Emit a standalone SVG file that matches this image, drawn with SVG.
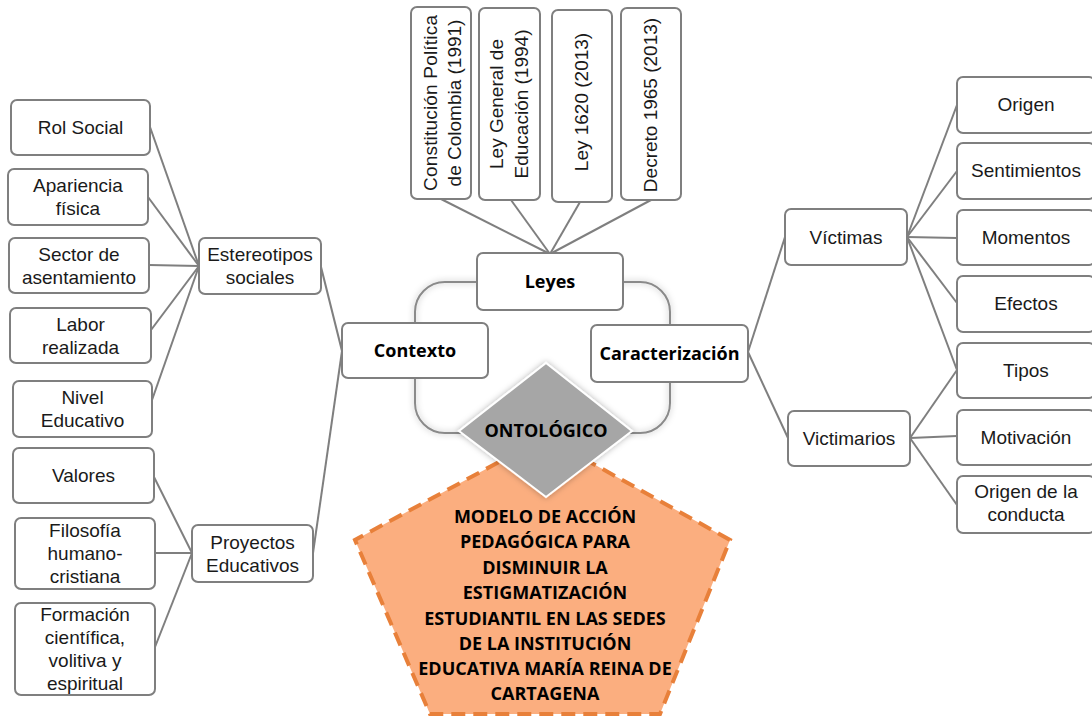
<svg xmlns="http://www.w3.org/2000/svg" width="1092" height="719" viewBox="0 0 1092 719">
<defs>
<filter id="glow" x="-20%" y="-20%" width="140%" height="140%">
<feGaussianBlur in="SourceAlpha" stdDeviation="3" result="blur"/>
<feFlood flood-color="#000" flood-opacity="0.3"/>
<feComposite in2="blur" operator="in" result="g"/>
<feMerge><feMergeNode in="g"/><feMergeNode in="SourceGraphic"/></feMerge>
</filter>
</defs>
<style>
.box{fill:#fff;stroke:#7f7f7f;stroke-width:2}
.t{font-family:"Liberation Sans",Arial,sans-serif;font-size:19px;fill:#1a1a1a;text-anchor:middle}
.b{font-family:"Open Sans",Lato,sans-serif;font-size:18px;font-weight:bold;fill:#000;text-anchor:middle}
.c{stroke:#7f7f7f;stroke-width:2;fill:none}
</style>
<rect width="1092" height="719" fill="#fff"/>

<g id="loop">
<rect x="415" y="282" width="255" height="151" rx="30" fill="none" stroke="#8a8a8a" stroke-width="2" filter="url(#glow)"/>
</g>

<g id="connectors">
<line class="c" x1="441" y1="199" x2="550" y2="254"/>
<line class="c" x1="511" y1="200" x2="550" y2="254"/>
<line class="c" x1="580" y1="202" x2="550" y2="254"/>
<line class="c" x1="651" y1="200" x2="550" y2="254"/>
<line class="c" x1="150" y1="127" x2="199" y2="266"/>
<line class="c" x1="148" y1="197" x2="199" y2="266"/>
<line class="c" x1="149" y1="265" x2="199" y2="266"/>
<line class="c" x1="151" y1="330" x2="199" y2="266"/>
<line class="c" x1="152" y1="400" x2="199" y2="266"/>
<line class="c" x1="321" y1="267" x2="342" y2="351"/>
<line class="c" x1="313" y1="553" x2="342" y2="351"/>
<line class="c" x1="154" y1="477" x2="192" y2="553"/>
<line class="c" x1="155" y1="553" x2="192" y2="553"/>
<line class="c" x1="155" y1="647" x2="192" y2="553"/>
<line class="c" x1="748" y1="352" x2="785" y2="237"/>
<line class="c" x1="748" y1="352" x2="788" y2="438"/>
<line class="c" x1="907" y1="237" x2="957" y2="105"/>
<line class="c" x1="907" y1="237" x2="957" y2="171"/>
<line class="c" x1="907" y1="237" x2="957" y2="238"/>
<line class="c" x1="907" y1="237" x2="957" y2="303"/>
<line class="c" x1="907" y1="237" x2="957" y2="370"/>
<line class="c" x1="910" y1="438" x2="957" y2="370"/>
<line class="c" x1="910" y1="438" x2="957" y2="436"/>
<line class="c" x1="910" y1="438" x2="957" y2="505"/>
</g>

<g id="n-constitucion"><rect class="box" x="411" y="7" width="60" height="192" rx="6"/>
<text class="t" transform="translate(437,103) rotate(-90)"><tspan x="0" y="0" textLength="176" lengthAdjust="spacing">Constitución Política</tspan><tspan x="0" y="24">de Colombia (1991)</tspan></text></g>
<g id="n-leygeneral"><rect class="box" x="479" y="8" width="61" height="192" rx="6"/>
<text class="t" transform="translate(503,104) rotate(-90)"><tspan x="0" y="0">Ley General de</tspan><tspan x="0" y="25">Educación (1994)</tspan></text></g>
<g id="n-ley1620"><rect class="box" x="552" y="10" width="60" height="192" rx="6"/>
<text class="t" transform="translate(588,102) rotate(-90)">Ley 1620 (2013)</text></g>
<g id="n-decreto"><rect class="box" x="621" y="8" width="60" height="192" rx="6"/>
<text class="t" transform="translate(657,105) rotate(-90)">Decreto 1965 (2013)</text></g>

<g id="n-leyes"><rect class="box" x="477" y="253" width="146" height="57" rx="6"/><text class="b" x="550" y="288">Leyes</text></g>
<g id="n-contexto"><rect class="box" x="342" y="323" width="146" height="55" rx="6"/><text class="b" x="415" y="357">Contexto</text></g>
<g id="n-caracterizacion"><rect class="box" x="591" y="325" width="157" height="57" rx="6"/><text class="b" x="669.5" y="360">Caracterización</text></g>

<g id="n-rol"><rect class="box" x="11" y="100" width="139" height="55" rx="6"/><text class="t" x="80.5" y="134">Rol Social</text></g>
<g id="n-apariencia"><rect class="box" x="8" y="169" width="140" height="56" rx="6"/><text class="t"><tspan x="78" y="192">Apariencia</tspan><tspan x="78" y="215">física</tspan></text></g>
<g id="n-sector"><rect class="box" x="9" y="238" width="140" height="55" rx="6"/><text class="t"><tspan x="79" y="261">Sector de</tspan><tspan x="79" y="284">asentamiento</tspan></text></g>
<g id="n-labor"><rect class="box" x="10" y="308" width="141" height="55" rx="6"/><text class="t"><tspan x="80.5" y="331">Labor</tspan><tspan x="80.5" y="354">realizada</tspan></text></g>
<g id="n-nivel"><rect class="box" x="13" y="381" width="139" height="56" rx="6"/><text class="t"><tspan x="82.5" y="404">Nivel</tspan><tspan x="82.5" y="427">Educativo</tspan></text></g>
<g id="n-estereotipos"><rect class="box" x="199" y="238" width="122" height="56" rx="6"/><text class="t"><tspan x="260" y="261">Estereotipos</tspan><tspan x="260" y="284">sociales</tspan></text></g>
<g id="n-valores"><rect class="box" x="13" y="448" width="141" height="55" rx="6"/><text class="t" x="83.5" y="482">Valores</text></g>
<g id="n-filosofia"><rect class="box" x="15" y="518" width="140" height="71" rx="6"/><text class="t"><tspan x="85" y="537">Filosofía</tspan><tspan x="85" y="560">humano-</tspan><tspan x="85" y="583">cristiana</tspan></text></g>
<g id="n-formacion"><rect class="box" x="15" y="603" width="140" height="92" rx="6"/><text class="t"><tspan x="85" y="621">Formación</tspan><tspan x="85" y="644">científica,</tspan><tspan x="85" y="667">volitiva y</tspan><tspan x="85" y="690">espiritual</tspan></text></g>
<g id="n-proyectos"><rect class="box" x="192" y="525" width="121" height="57" rx="6"/><text class="t"><tspan x="252.5" y="549">Proyectos</tspan><tspan x="252.5" y="572">Educativos</tspan></text></g>

<g id="n-victimas"><rect class="box" x="785" y="209" width="122" height="56" rx="6"/><text class="t" x="846" y="244">Víctimas</text></g>
<g id="n-victimarios"><rect class="box" x="788" y="411" width="122" height="55" rx="6"/><text class="t" x="849" y="445">Victimarios</text></g>
<g id="n-origen"><rect class="box" x="957" y="77" width="138" height="56" rx="6"/><text class="t" x="1026" y="111">Origen</text></g>
<g id="n-sentimientos"><rect class="box" x="957" y="143" width="138" height="56" rx="6"/><text class="t" x="1026" y="177">Sentimientos</text></g>
<g id="n-momentos"><rect class="box" x="957" y="210" width="138" height="55" rx="6"/><text class="t" x="1026" y="244">Momentos</text></g>
<g id="n-efectos"><rect class="box" x="957" y="276" width="138" height="56" rx="6"/><text class="t" x="1026" y="310">Efectos</text></g>
<g id="n-tipos"><rect class="box" x="957" y="343" width="138" height="55" rx="6"/><text class="t" x="1026" y="377">Tipos</text></g>
<g id="n-motivacion"><rect class="box" x="957" y="410" width="138" height="55" rx="6"/><text class="t" x="1026" y="444">Motivación</text></g>
<g id="n-origenconducta"><rect class="box" x="957" y="476" width="138" height="57" rx="6"/><text class="t"><tspan x="1026" y="498">Origen de la</tspan><tspan x="1026" y="521">conducta</tspan></text></g>

<g id="n-modelo">
<polygon points="545,437 730,540 660,714 430,714 355,540" fill="#fbae7f" stroke="#e8803a" stroke-width="4" stroke-dasharray="14 8"/>
<text class="b"><tspan x="545" y="523">MODELO DE ACCIÓN</tspan><tspan x="545" y="548">PEDAGÓGICA PARA</tspan><tspan x="545" y="574">DISMINUIR LA</tspan><tspan x="545" y="599">ESTIGMATIZACIÓN</tspan><tspan x="545" y="625">ESTUDIANTIL EN LAS SEDES</tspan><tspan x="545" y="650">DE LA INSTITUCIÓN</tspan><tspan x="545" y="675">EDUCATIVA MARÍA REINA DE</tspan><tspan x="545" y="700">CARTAGENA</tspan></text>
</g>

<g id="n-ontologico">
<polygon points="546,363 632,431 546,497 459,431" fill="#a6a6a6" stroke="#fff" stroke-width="2" filter="url(#glow)"/>
<text class="b" x="546" y="437">ONTOLÓGICO</text>
</g>
</svg>
